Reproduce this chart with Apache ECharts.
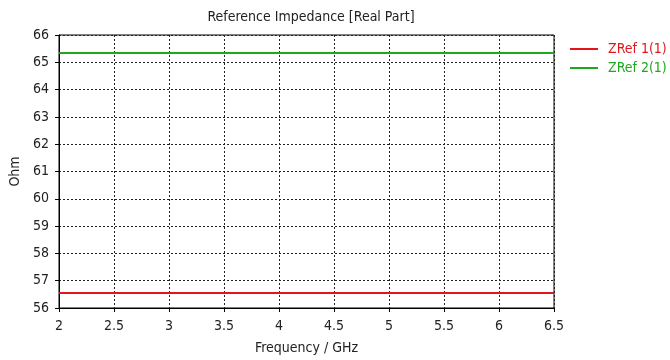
<!DOCTYPE html>
<html>
<head>
<meta charset="utf-8">
<script src="https://cdn.jsdelivr.net/npm/echarts@6/dist/echarts.min.js"></script>
<style>html,body{margin:0;padding:0;background:#fff;}#c{width:670px;height:360px;}</style>
</head>
<body>
<div id="c"></div>
<script>
var freqs = [2, 2.5, 3, 3.5, 4, 4.5, 5, 5.5, 6, 6.5];
var zref1 = [56.55, 56.55, 56.55, 56.55, 56.55, 56.55, 56.55, 56.55, 56.55, 56.55];
var zref2 = [65.34, 65.34, 65.34, 65.34, 65.34, 65.34, 65.34, 65.34, 65.34, 65.34];
var seriesNames = ['ZRef 1(1)', 'ZRef 2(1)'];
var colors = ['#e0161c', '#1ea81e'];

var font = '"DejaVu Sans Condensed", "Liberation Sans Narrow", "DejaVu Sans"';
var fs = 14;
var chart = echarts.init(document.getElementById('c'), null, {renderer: 'canvas'});
function pairs(xs, ys) { return xs.map(function (x, i) { return [x, ys[i]]; }); }
chart.setOption({
  animation: false,
  backgroundColor: '#fff',
  title: {
    text: 'Reference Impedance [Real Part]',
    left: 306, top: 5, textAlign: 'center',
    textStyle: {fontFamily: font, fontSize: fs, fontWeight: 'normal', color: '#222'}
  },
  legend: {
    orient: 'vertical', left: 570, top: 42, itemGap: 5, padding: 0,
    itemWidth: 28, itemHeight: 2, icon: 'rect',
    data: [
      {name: seriesNames[0], textStyle: {color: colors[0]}},
      {name: seriesNames[1], textStyle: {color: colors[1]}}
    ],
    textStyle: {fontFamily: font, fontSize: fs, padding: [0, 0, 0, 5]}
  },
  grid: {left: 59, right: 116, top: 35, bottom: 50, show: true, borderColor: '#000', borderWidth: 1},
  xAxis: {
    type: 'value', min: 2, max: 6.5, interval: 0.5,
    name: 'Frequency / GHz', nameLocation: 'middle', nameGap: 33,
    nameTextStyle: {fontFamily: font, fontSize: fs, color: '#222'},
    axisLine: {lineStyle: {color: '#000'}},
    axisTick: {show: true, length: 4, lineStyle: {color: '#000'}},
    axisLabel: {fontFamily: font, fontSize: fs, color: '#222', margin: 11},
    splitLine: {show: true, lineStyle: {color: '#222', type: [2, 2], width: 1}}
  },
  yAxis: {
    type: 'value', min: 56, max: 66, interval: 1,
    name: 'Ohm', nameLocation: 'middle', nameGap: 37, nameRotate: 90,
    nameTextStyle: {fontFamily: font, fontSize: fs, color: '#222'},
    axisLine: {show: true, lineStyle: {color: '#000'}},
    axisTick: {show: true, length: 4, lineStyle: {color: '#000'}},
    axisLabel: {fontFamily: font, fontSize: fs, color: '#222', margin: 10},
    splitLine: {show: true, lineStyle: {color: '#222', type: [2, 2], width: 1}}
  },
  series: [
    {name: seriesNames[0], type: 'line', data: pairs(freqs, zref1), showSymbol: false, symbol: 'none',
     lineStyle: {color: colors[0], width: 2}, itemStyle: {color: colors[0]}},
    {name: seriesNames[1], type: 'line', data: pairs(freqs, zref2), showSymbol: false, symbol: 'none',
     lineStyle: {color: colors[1], width: 2}, itemStyle: {color: colors[1]}}
  ]
});
</script>
</body>
</html>
